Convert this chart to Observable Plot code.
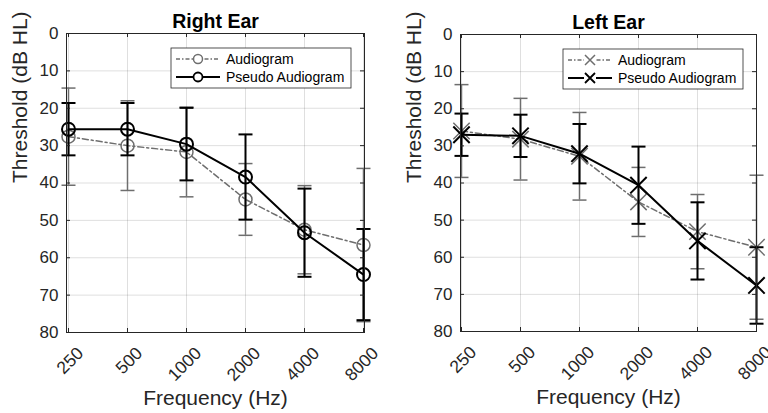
<!DOCTYPE html>
<html><head><meta charset="utf-8">
<script src="https://cdn.jsdelivr.net/npm/d3@7"></script>
<script src="https://cdn.jsdelivr.net/npm/@observablehq/plot@0.6"></script>
<style>
html,body{margin:0;padding:0;background:#fff;}
#wrap{display:flex;width:768px;height:413px;overflow:hidden;}
svg{display:block;flex:none;}
</style></head><body><div id="wrap"></div>
<script>
// ---- data ----
const freqs = ["250", "500", "1000", "2000", "4000", "8000"];
const yTicks = [0, 10, 20, 30, 40, 50, 60, 70, 80];
const seriesNames = ["Audiogram", "Pseudo Audiogram"];

const rightAudMean = [27.6, 30.0, 31.7, 44.4, 52.5, 56.6];
const rightAudErr  = [13.0, 12.0, 12.0, 9.6, 11.8, 20.5];
const rightPseMean = [25.6, 25.6, 29.6, 38.4, 53.3, 64.5];
const rightPseErr  = [7.0, 7.0, 9.7, 11.4, 11.8, 12.2];

const leftAudMean = [26.0, 28.2, 32.8, 45.1, 53.1, 57.3];
const leftAudErr  = [12.5, 11.0, 11.8, 9.3, 10.0, 19.4];
const leftPseMean = [27.0, 27.3, 32.1, 40.6, 55.6, 67.6];
const leftPseErr  = [5.7, 5.7, 8.0, 10.4, 10.4, 10.3];

const GREY = "#6e6e6e", BLACK = "#000000", AXC = "#262626";
const FONT = "'Liberation Sans', Arial, Helvetica, sans-serif";

const rows = (mean, err) => freqs.map((f, i) => ({f, v: mean[i], lo: mean[i] - err[i], hi: mean[i] + err[i]}));

const capSymbol = {draw(ctx, size) { const r = Math.sqrt(size / Math.PI); ctx.moveTo(-r, 0); ctx.lineTo(r, 0); }};

function panel({title, aud, pse, symbol, width, ml, mr, mt, mb}) {
  const height = 413;
  const W = width - ml - mr, H = height - mt - mb;
  const A = rows(aud[0], aud[1]), P = rows(pse[0], pse[1]);
  const isCircle = symbol === "circle";
  const mk = (data, color, sw) => isCircle
    ? Plot.dot(data, {x: "f", y: "v", r: 6.5, stroke: color, strokeWidth: sw, fill: "none"})
    : Plot.dot(data, {x: "f", y: "v", symbol: "times", r: 7.5, stroke: color, strokeWidth: sw});
  const svg = Plot.plot({
    width, height, marginLeft: ml, marginRight: mr, marginTop: mt, marginBottom: mb,
    style: {fontFamily: FONT, background: "#fff", color: AXC, overflow: "visible"},
    x: {type: "point", domain: freqs, padding: 0, axis: null},
    y: {domain: [0, 80], reverse: true, axis: null},
    marks: [
      Plot.gridX(freqs, {x: d => d, stroke: AXC, strokeOpacity: 0.15}),
      Plot.gridY(yTicks, {y: d => d, stroke: AXC, strokeOpacity: 0.15}),
      // audiogram (grey)
      Plot.ruleX(A, {x: "f", y1: "lo", y2: "hi", stroke: GREY, strokeWidth: 1.5}),
      Plot.dot(A, {x: "f", y: "lo", symbol: capSymbol, r: 7, stroke: GREY, strokeWidth: 1.5}),
      Plot.dot(A, {x: "f", y: "hi", symbol: capSymbol, r: 7, stroke: GREY, strokeWidth: 1.5}),
      Plot.line(A, {x: "f", y: "v", stroke: GREY, strokeWidth: 1.5, strokeDasharray: "6,3,2,3"}),
      mk(A, GREY, 1.5),
      // pseudo audiogram (black)
      Plot.ruleX(P, {x: "f", y1: "lo", y2: "hi", stroke: BLACK, strokeWidth: 2}),
      Plot.dot(P, {x: "f", y: "lo", symbol: capSymbol, r: 7, stroke: BLACK, strokeWidth: 2}),
      Plot.dot(P, {x: "f", y: "hi", symbol: capSymbol, r: 7, stroke: BLACK, strokeWidth: 2}),
      Plot.line(P, {x: "f", y: "v", stroke: BLACK, strokeWidth: 2}),
      mk(P, BLACK, 2),
      // frame & inward ticks
      Plot.frame({stroke: AXC, strokeWidth: 1}),
      Plot.tickY(yTicks, {y: d => d, insetRight: W - 4, stroke: AXC}),
      Plot.tickY(yTicks, {y: d => d, insetLeft: W - 4, stroke: AXC}),
      Plot.tickX(freqs, {x: d => d, insetTop: H - 4, stroke: AXC}),
      Plot.tickX(freqs, {x: d => d, insetBottom: H - 4, stroke: AXC}),
      // y tick labels
      Plot.text(yTicks, {y: d => d, text: d => String(d), frameAnchor: "left", textAnchor: "end", lineAnchor: "middle", dx: -8, fontSize: 17, fill: AXC}),
      // x tick labels rotated
      Plot.text(freqs, {x: d => d, text: d => d, frameAnchor: "bottom", lineAnchor: "middle", rotate: -45, textAnchor: "end", dx: 12, dy: 18, fontSize: 17.5, fill: AXC}),
      // axis titles
      Plot.text(["Frequency (Hz)"], {frameAnchor: "bottom", lineAnchor: "middle", dy: 66, fontSize: 21, fill: AXC}),
      Plot.text(["Threshold (dB HL)"], {frameAnchor: "left", lineAnchor: "middle", rotate: -90, dx: -46, fontSize: 21, fill: AXC}),
      Plot.text([title], {frameAnchor: "top", lineAnchor: "middle", dy: -12, fontSize: 19.5, fontWeight: "bold", fill: "#000"})
    ]
  });
  // legend (inside the axes, top-right)
  const bw = 180, bh = 40;
  const bx = width - mr - 13 - bw, by = mt + 15;
  const g = d3.select(svg).append("g").attr("font-family", FONT).attr("font-size", 14).attr("text-anchor", "start");
  g.append("rect").attr("x", bx).attr("y", by).attr("width", bw).attr("height", bh)
    .attr("fill", "#fff").attr("stroke", AXC).attr("stroke-width", 0.8);
  const items = [
    {name: seriesNames[0], color: GREY, sw: 1.5, dash: "4,2,1.5,2", y: by + 11},
    {name: seriesNames[1], color: BLACK, sw: 1.8, dash: null, y: by + 29}
  ];
  for (const it of items) {
    const l = g.append("line").attr("x1", bx + 5).attr("x2", bx + 49).attr("y1", it.y).attr("y2", it.y)
      .attr("stroke", it.color).attr("stroke-width", it.sw);
    if (it.dash) l.attr("stroke-dasharray", it.dash);
    const cx = bx + 27;
    if (isCircle) {
      g.append("circle").attr("cx", cx).attr("cy", it.y).attr("r", 4.5).attr("fill", "#fff")
        .attr("stroke", it.color).attr("stroke-width", it.sw);
    } else {
      g.append("rect").attr("x", cx - 6).attr("y", it.y - 6).attr("width", 12).attr("height", 12).attr("fill", "#fff");
      g.append("path").attr("d", `M${cx-5},${it.y-5}L${cx+5},${it.y+5}M${cx-5},${it.y+5}L${cx+5},${it.y-5}`)
        .attr("stroke", it.color).attr("stroke-width", it.sw);
    }
    g.append("text").attr("x", bx + 55).attr("y", it.y).attr("dy", "0.35em").attr("text-anchor", "start")
      .attr("font-size", 14).attr("fill", "#000").text(it.name);
  }
  return svg;
}

const wrap = document.getElementById("wrap");
wrap.appendChild(panel({title: "Right Ear", aud: [rightAudMean, rightAudErr], pse: [rightPseMean, rightPseErr],
  symbol: "circle", width: 384, ml: 66, mr: 20, mt: 33, mb: 81}));
wrap.appendChild(panel({title: "Left Ear", aud: [leftAudMean, leftAudErr], pse: [leftPseMean, leftPseErr],
  symbol: "times", width: 384, ml: 76, mr: 12, mt: 34, mb: 82}));
</script>
</body></html>
